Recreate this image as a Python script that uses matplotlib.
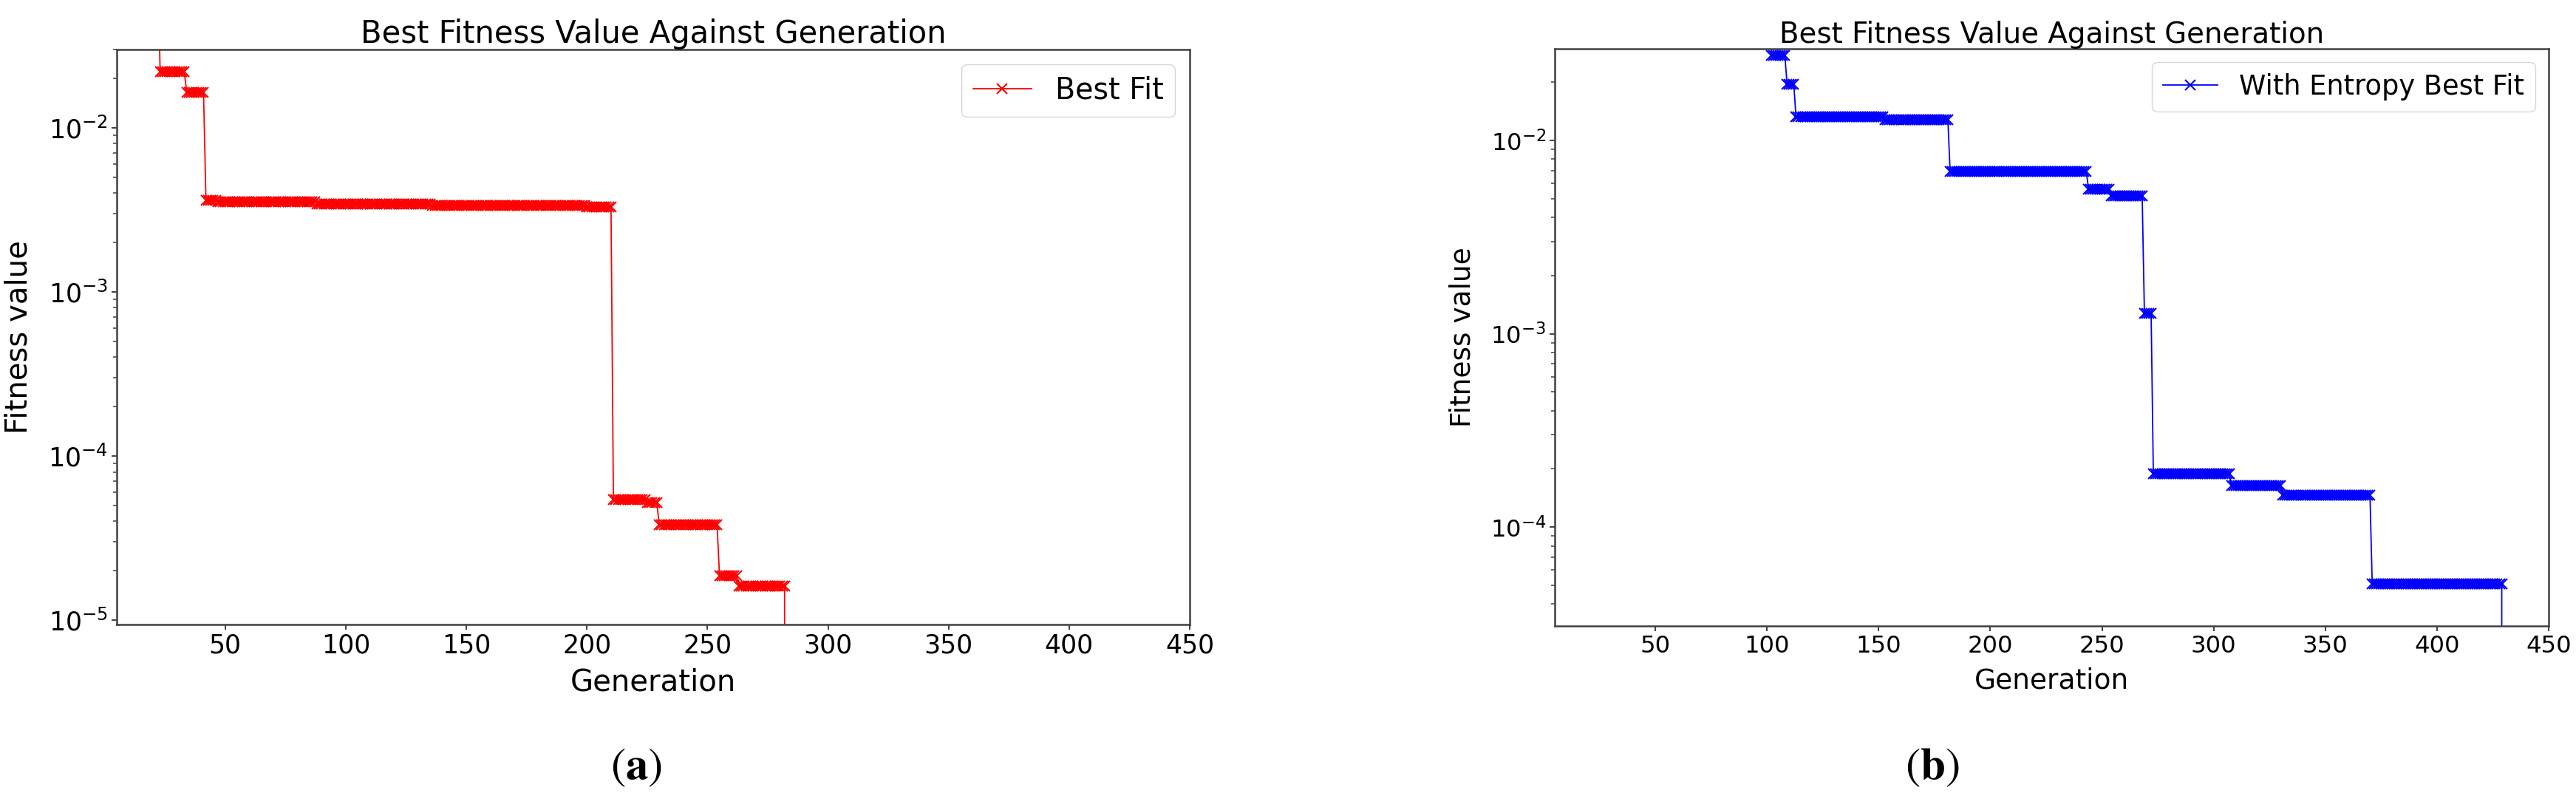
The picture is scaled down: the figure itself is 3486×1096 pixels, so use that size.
import numpy as np
import matplotlib
matplotlib.use("Agg")
import matplotlib.pyplot as plt

# best fitness per generation, stored as plateaus:
# generation where a plateau starts and the value it holds
red_start = [1, 23, 34, 42, 47, 88, 136, 200, 211, 225, 230, 255, 263, 283]
red_value = [0.1, 0.0220, 0.0165, 0.00361, 0.00354, 0.00345, 0.00337, 0.00330,
             5.43e-5, 5.2e-5, 3.8e-5, 1.86e-5, 1.62e-5, 0.0]

blue_start = [1, 102, 109, 113, 153, 182, 244, 254, 269, 273, 308, 331, 371, 430]
blue_value = [0.1, 0.0275, 0.0196, 0.0132, 0.0128, 0.00692, 0.00558, 0.00516,
              0.00128, 1.88e-4, 1.64e-4, 1.46e-4, 5.09e-5, 0.0]

last_gen = 450
x_ticks = [50, 100, 150, 200, 250, 300, 350, 400, 450]


def expand(starts, values, last):
    """plateau list -> one value per generation"""
    ends = starts[1:] + [last + 1]
    counts = np.array(ends) - np.array(starts)
    gens = np.arange(starts[0], last + 1)
    fit = np.repeat(values, counts)
    return gens, fit


def plot_panel(fig, rect, starts, values, color, label, ylim, tag, tag_x, fs):
    ax = fig.add_axes(rect)
    gens, fit = expand(starts, values, last_gen)

    ax.plot(gens, fit, color=color, marker="x", linewidth=1.3,
            markersize=10, markeredgewidth=1.5, label=label)

    ax.set_yscale("log")
    ax.set_xlim(5, 450)
    ax.set_ylim(*ylim)
    ax.set_xticks(x_ticks)

    ax.set_title("Best Fitness Value Against Generation", fontsize=30 * fs)
    ax.set_xlabel("Generation", fontsize=29 * fs, labelpad=9)
    ax.set_ylabel("Fitness value", fontsize=29 * fs, labelpad=14)

    ax.tick_params(axis="both", which="major", labelsize=25 * fs,
                   length=5, width=1.4, color="#404040")
    ax.tick_params(axis="y", which="minor", length=3.5, width=1.1,
                   color="#404040")
    for sp in ax.spines.values():
        sp.set_linewidth(1.8)
        sp.set_color("#404040")

    ax.legend(loc="upper right", fontsize=28.5 * fs)

    # sub-figure tag under each panel
    fig.text(tag_x, 0.053, tag, ha="center", va="center", fontsize=44,
             math_fontfamily="stix")
    return ax


fig = plt.figure(figsize=(34.87, 10.96), dpi=100)

plot_panel(fig, [0.0453, 0.2290, 0.4164, 0.7099], red_start, red_value,
           "red", "Best Fit", (9.4e-6, 0.030), r"$(\mathbf{a})$", 0.247, 1.0)
plot_panel(fig, [0.6034, 0.2272, 0.3857, 0.7126], blue_start, blue_value,
           "blue", "With Entropy Best Fit", (3.08e-5, 0.0298),
           r"$(\mathbf{b})$", 0.750, 0.93)

fig.savefig("out.png", dpi=100)
plt.close(fig)
print("[Saved] out.png")
